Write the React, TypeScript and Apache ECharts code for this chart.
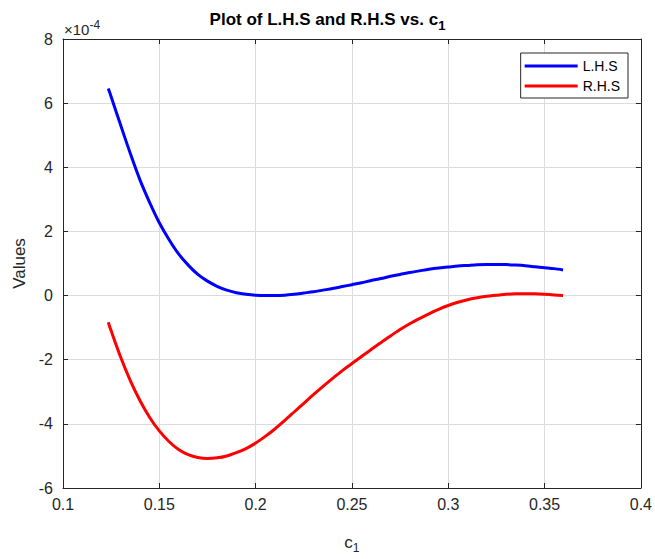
import React, { useEffect, useRef } from "react";
import * as echarts from "echarts";

const c1Values = [0.1235, 0.125, 0.13, 0.135, 0.14, 0.145, 0.15, 0.155, 0.16, 0.165, 0.17, 0.175, 0.18, 0.185, 0.19, 0.195, 0.2, 0.205, 0.21, 0.215, 0.22, 0.225, 0.23, 0.235, 0.24, 0.245, 0.25, 0.255, 0.26, 0.265, 0.27, 0.275, 0.28, 0.285, 0.29, 0.295, 0.3, 0.305, 0.31, 0.315, 0.32, 0.325, 0.33, 0.335, 0.34, 0.345, 0.35, 0.355, 0.3596];
const lhsValues = [6.46, 6.2, 5.3, 4.42, 3.6, 2.9, 2.27, 1.75, 1.3, 0.95, 0.66, 0.45, 0.29, 0.17, 0.09, 0.04, 0.01, 0.0, 0.0, 0.01, 0.04, 0.08, 0.12, 0.17, 0.22, 0.28, 0.34, 0.4, 0.47, 0.53, 0.6, 0.66, 0.72, 0.77, 0.82, 0.86, 0.89, 0.92, 0.94, 0.96, 0.97, 0.97, 0.965, 0.95, 0.93, 0.9, 0.87, 0.84, 0.8];
const rhsValues = [-0.83, -1.1, -1.93, -2.66, -3.28, -3.8, -4.22, -4.55, -4.8, -4.96, -5.05, -5.08, -5.06, -5.0, -4.9, -4.77, -4.6, -4.39, -4.16, -3.9, -3.63, -3.36, -3.09, -2.83, -2.58, -2.34, -2.12, -1.9, -1.68, -1.47, -1.26, -1.06, -0.88, -0.72, -0.57, -0.43, -0.31, -0.21, -0.13, -0.07, -0.02, 0.01, 0.04, 0.055, 0.06, 0.055, 0.04, 0.02, 0.0];
const seriesNames = ["L.H.S", "R.H.S"];
const SCALE = 1e-4;

const FONT = "Liberation Sans, Arial, sans-serif";
const TXT = "#262626";

export default function App() {
  const ref = useRef<HTMLDivElement>(null);
  useEffect(() => {
    if (!ref.current) return;
    const chart = echarts.init(ref.current, undefined, { renderer: "svg" });
    const lhs = c1Values.map((x, i) => [x, lhsValues[i] * SCALE]);
    const rhs = c1Values.map((x, i) => [x, rhsValues[i] * SCALE]);
    const yFmt = (v: number) => String(Math.round(v / SCALE));
    const boxAxisLine = { show: true, onZero: false, lineStyle: { color: TXT, width: 1 } };
    const tick = { show: true, inside: true, length: 5, lineStyle: { color: TXT } };
    chart.setOption({
      animation: false,
      backgroundColor: "#ffffff",
      textStyle: { fontFamily: FONT },
      title: {
        text: "Plot of L.H.S and R.H.S vs. c{sub|1}",
        left: "center",
        top: 2,
        textStyle: {
          fontFamily: FONT,
          fontSize: 17,
          fontWeight: "bold",
          color: "#000",
          rich: { sub: { fontSize: 13, fontWeight: "bold", color: "#000", padding: [12, 0, 0, 0], fontFamily: FONT } },
        },
      },
      graphic: [
        {
          type: "text",
          left: 64,
          top: 19,
          style: {
            text: "×10{sup|-4}",
            fontFamily: FONT,
            fontSize: 15,
            fill: TXT,
            rich: { sup: { fontSize: 12, fill: TXT, padding: [0, 0, 9, 0], fontFamily: FONT } },
          },
        },
      ],
      legend: {
        orient: "vertical",
        right: 27,
        top: 53,
        data: seriesNames,
        icon: "rect",
        itemWidth: 53,
        itemHeight: 3,
        itemGap: 6,
        padding: [6, 8, 5, 4],
        borderColor: TXT,
        borderWidth: 1,
        backgroundColor: "#fff",
        textStyle: { fontFamily: FONT, fontSize: 14, color: "#000" },
      },
      grid: { left: 63, right: 14, top: 39, bottom: 68, show: false },
      xAxis: [
        {
          type: "value",
          min: 0.1,
          max: 0.4,
          interval: 0.05,
          name: "c{sub|1}",
          nameLocation: "middle",
          nameGap: 42,
          nameTextStyle: {
            fontFamily: FONT,
            fontSize: 17,
            color: TXT,
            rich: { sub: { fontSize: 12, color: TXT, padding: [12, 0, 0, 0], fontFamily: FONT } },
          },
          axisLine: boxAxisLine,
          axisTick: tick,
          axisLabel: { fontFamily: FONT, fontSize: 16, color: TXT, margin: 8, formatter: (v: number) => String(Math.round(v * 100) / 100) },
          splitLine: { show: true, lineStyle: { color: "#dcdcdc", width: 1 } },
        },
        {
          type: "value",
          position: "top",
          min: 0.1,
          max: 0.4,
          interval: 0.05,
          axisLine: boxAxisLine,
          axisTick: tick,
          axisLabel: { show: false },
          splitLine: { show: false },
        },
      ],
      yAxis: [
        {
          type: "value",
          min: -6 * SCALE,
          max: 8 * SCALE,
          interval: 2 * SCALE,
          name: "Values",
          nameLocation: "middle",
          nameGap: 34,
          nameTextStyle: { fontFamily: FONT, fontSize: 17, color: TXT },
          axisLine: boxAxisLine,
          axisTick: tick,
          axisLabel: { fontFamily: FONT, fontSize: 16, color: TXT, margin: 10, formatter: yFmt },
          splitLine: { show: true, lineStyle: { color: "#dcdcdc", width: 1 } },
        },
        {
          type: "value",
          position: "right",
          min: -6 * SCALE,
          max: 8 * SCALE,
          interval: 2 * SCALE,
          axisLine: boxAxisLine,
          axisTick: tick,
          axisLabel: { show: false },
          splitLine: { show: false },
        },
      ],
      series: [
        {
          name: seriesNames[0],
          type: "line",
          data: lhs,
          smooth: 0.3,
          showSymbol: false,
          color: "#0000ff",
          lineStyle: { color: "#0000ff", width: 3 },
        },
        {
          name: seriesNames[1],
          type: "line",
          data: rhs,
          smooth: 0.3,
          showSymbol: false,
          color: "#ff0000",
          lineStyle: { color: "#ff0000", width: 3 },
        },
      ],
    });
    return () => chart.dispose();
  }, []);
  return <div ref={ref} style={{ width: 655, height: 559, position: "absolute", left: 0, top: 0 }} />;
}
